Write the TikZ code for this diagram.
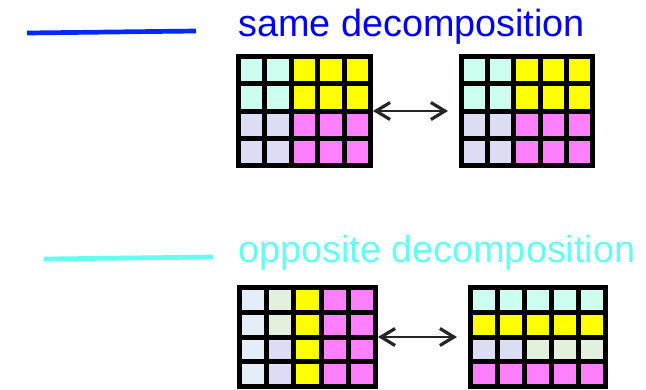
\documentclass[tikz,border=0pt]{standalone}
\usepackage{fontspec}
\setmainfont{Liberation Sans}
\usetikzlibrary{calc,arrows.meta}

\definecolor{sameblue}{RGB}{0,40,255}
\definecolor{sametext}{RGB}{0,0,255}
\definecolor{oppcyan}{RGB}{100,255,240}
\definecolor{cy}{RGB}{204,255,240}
\definecolor{ye}{RGB}{255,255,0}
\definecolor{la}{RGB}{220,220,245}
\definecolor{ma}{RGB}{255,128,255}
\definecolor{lb}{RGB}{228,238,248}
\definecolor{lg}{RGB}{228,240,222}

% 5x4 block of squares on a black frame
\newcommand{\procgrid}[5]{%
  \node[gridframe, minimum width=#3pt, minimum height=#4pt] (#1) at #2 {};
  \foreach \c [count=\i from 0] in {#5} {
    \pgfmathtruncatemacro\cc{mod(\i,5)}
    \pgfmathtruncatemacro\rr{\i/5}
    \fill[\c] ($(#1.north west)+({5+\cc*(#3-5)/5},{5+\rr*(#4-5)/4})$)
      rectangle ++({(#3-30)/5},{(#4-25)/4});
  }
}

\begin{document}
\begin{tikzpicture}[
        x=1pt, y=-1pt,
        gridframe/.style={fill=black, inner sep=0pt, outer sep=0pt, anchor=north west},
        legendline/.style={line width=4.7pt},
        legendtext/.style={anchor=base west, inner sep=0pt, font=\fontsize{37.8}{40}\selectfont},
        swaparrow/.style={
            {Straight Barb[length=14pt,width=17pt,line width=3.2pt]}-{Straight Barb[length=14pt,width=17pt,line width=3.2pt]},
            line width=1.3pt,
            draw=black!85,
            shorten >=11pt
        }
    ]
    \useasboundingbox (0,0) rectangle (646,389);

    % Same decomposition
    \coordinate (sameA) at (27,33);
    \coordinate (sameB) at (196,31);
    \draw[legendline, sameblue] (sameA) -- (sameB);
    \node[legendtext, text=sametext] (sametxt) at (238,36) {same decomposition};

    \procgrid{sameL}{(236,54)}{137}{114}{cy,cy,ye,ye,ye,cy,cy,ye,ye,ye,la,la,ma,ma,ma,la,la,ma,ma,ma}
    \procgrid{sameR}{(459,54)}{136}{114}{cy,cy,ye,ye,ye,cy,cy,ye,ye,ye,la,la,ma,ma,ma,la,la,ma,ma,ma}

    % Opposite decomposition
    \coordinate (oppA) at (44,259);
    \coordinate (oppB) at (213,257);
    \draw[legendline, oppcyan] (oppA) -- (oppB);
    \node[legendtext, text=oppcyan] (opptxt) at (238,262) {opposite decomposition};

    \procgrid{oppL}{(237,285)}{141}{104}{lb,lg,ye,ma,ma,lb,lg,ye,ma,ma,lb,la,ye,ma,ma,lb,la,ye,ma,ma}
    \procgrid{oppR}{(468,285)}{140}{104}{cy,cy,cy,cy,cy,ye,ye,ye,ye,ye,la,la,lg,lg,lg,ma,ma,ma,ma,ma}

    % Arrows
    \draw[swaparrow] (sameL) -- (sameR);
    \draw[swaparrow] (oppL) -- (oppR);

\end{tikzpicture}
\end{document}
